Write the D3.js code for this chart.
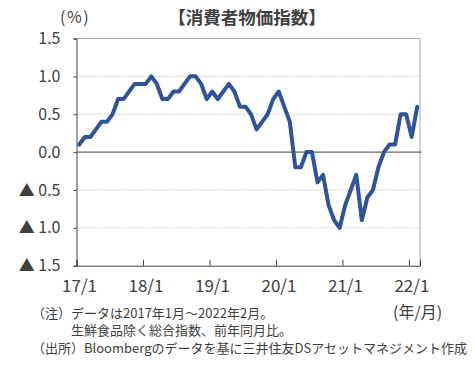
<!DOCTYPE html>
<html><head><meta charset="utf-8">
<script src="https://cdn.jsdelivr.net/npm/d3@7"></script>
<style>body{margin:0;background:#fff}svg{display:block}text{font-family:"Noto Sans CJK JP","Noto Sans",sans-serif;fill:#404040}</style>
</head><body><svg id="c" width="475" height="366"></svg>
<script>
const months = [];
for (let y = 2017; y <= 2022; y++) for (let m = 1; m <= 12; m++) if (y < 2022 || m <= 2) months.push(y + "/" + m);
const cpi = [
  0.1,0.2,0.2,0.3,0.4,0.4,0.5,0.7,0.7,0.8,0.9,0.9,
  0.9,1.0,0.9,0.7,0.7,0.8,0.8,0.9,1.0,1.0,0.9,0.7,
  0.8,0.7,0.8,0.9,0.8,0.6,0.6,0.5,0.3,0.4,0.5,0.7,
  0.8,0.6,0.4,-0.2,-0.2,0.0,0.0,-0.4,-0.3,-0.7,-0.9,-1.0,
  -0.7,-0.5,-0.3,-0.9,-0.6,-0.5,-0.2,0.0,0.1,0.1,0.5,0.5,
  0.2,0.6
];
const xTickIdx = [0,12,24,36,48,60];
const xTickLabels = ["17/1","18/1","19/1","20/1","21/1","22/1"];
const yTicks = [1.5,1.0,0.5,0.0,-0.5,-1.0,-1.5];
const yTickLabels = ["1.5","1.0","0.5","0.0","▲ 0.5","▲ 1.0","▲ 1.5"];
const title = "【消費者物価指数】";
const notes = ["（注）データは2017年1月～2022年2月。","生鮮食品除く総合指数、前年同月比。","（出所）Bloombergのデータを基に三井住友DSアセットマネジメント作成"];

const svg = d3.select("#c");
const L = 76.5, R = 420, T = 38.5, B = 265.7;
const x = d3.scaleLinear().domain([0, months.length]).range([L, R]);
const y = d3.scaleLinear().domain([-1.5, 1.5]).range([B, T]);

// gridlines
svg.append("g").selectAll("line").data(yTicks.filter(v => v !== 0 && Math.abs(v) !== 1.5)).join("line")
  .attr("x1", L).attr("x2", R).attr("y1", d => y(d)).attr("y2", d => y(d))
  .attr("stroke", "#cfcfcf").attr("stroke-width", 1).attr("stroke-dasharray", "2,1");
// border top/right
svg.append("line").attr("x1", L).attr("x2", R).attr("y1", T).attr("y2", T).attr("stroke", "#a6a6a6");
svg.append("line").attr("x1", R).attr("x2", R).attr("y1", T).attr("y2", B).attr("stroke", "#a6a6a6");

// y axis
const yAxis = d3.axisLeft(y).tickValues(yTicks).tickSize(3).tickPadding(13)
  .tickFormat((d, i) => yTickLabels[i]);
const gy = svg.append("g").attr("transform", `translate(${L},0)`).call(yAxis);
gy.select(".domain").attr("stroke", "#404040");
gy.selectAll(".tick line").attr("stroke", "#404040");
gy.selectAll("text").style("font-size", "16px").attr("fill", "#404040");

// x axis (ticks inside)
const xAxis = d3.axisBottom(x).tickValues(xTickIdx).tickSize(-6).tickPadding(14)
  .tickFormat((d, i) => xTickLabels[i]);
const gx = svg.append("g").attr("transform", `translate(0,${B})`).call(xAxis);
gx.select(".domain").attr("stroke", "#404040");
gx.selectAll(".tick line").attr("stroke", "#404040");
gx.selectAll("text").style("font-size", "17px").attr("fill", "#404040").attr("dx", 2.5);

// zero line
svg.append("line").attr("x1", L).attr("x2", R + 1.5).attr("y1", y(0)).attr("y2", y(0))
  .attr("stroke", "#404040").attr("stroke-width", 1);

// series
const line = d3.line().x((d, i) => x(i + 0.5)).y(d => y(d));
svg.append("path").datum(cpi).attr("d", line).attr("fill", "none")
  .attr("stroke", "#2f549c").attr("stroke-width", 4).attr("stroke-linejoin", "round").attr("stroke-linecap", "round");

// texts
svg.append("text").attr("x", 247).attr("y", 24).attr("text-anchor", "middle")
  .style("font-size", "17.5px").style("font-weight", "bold").attr("fill", "#333").text(title);
svg.append("text").attr("x", 60).attr("y", 23).style("font-size", "16px").style("letter-spacing", "1.5px").text("(%)");
svg.append("text").attr("x", 393).attr("y", 318).style("font-size", "16px").text("(年/月)");
svg.append("text").attr("x", 32).attr("y", 318).style("font-size", "13px").text(notes[0]);
svg.append("text").attr("x", 71).attr("y", 335).style("font-size", "13px").text(notes[1]);
svg.append("text").attr("x", 32).attr("y", 353).style("font-size", "13px").text(notes[2]);
</script></body></html>
